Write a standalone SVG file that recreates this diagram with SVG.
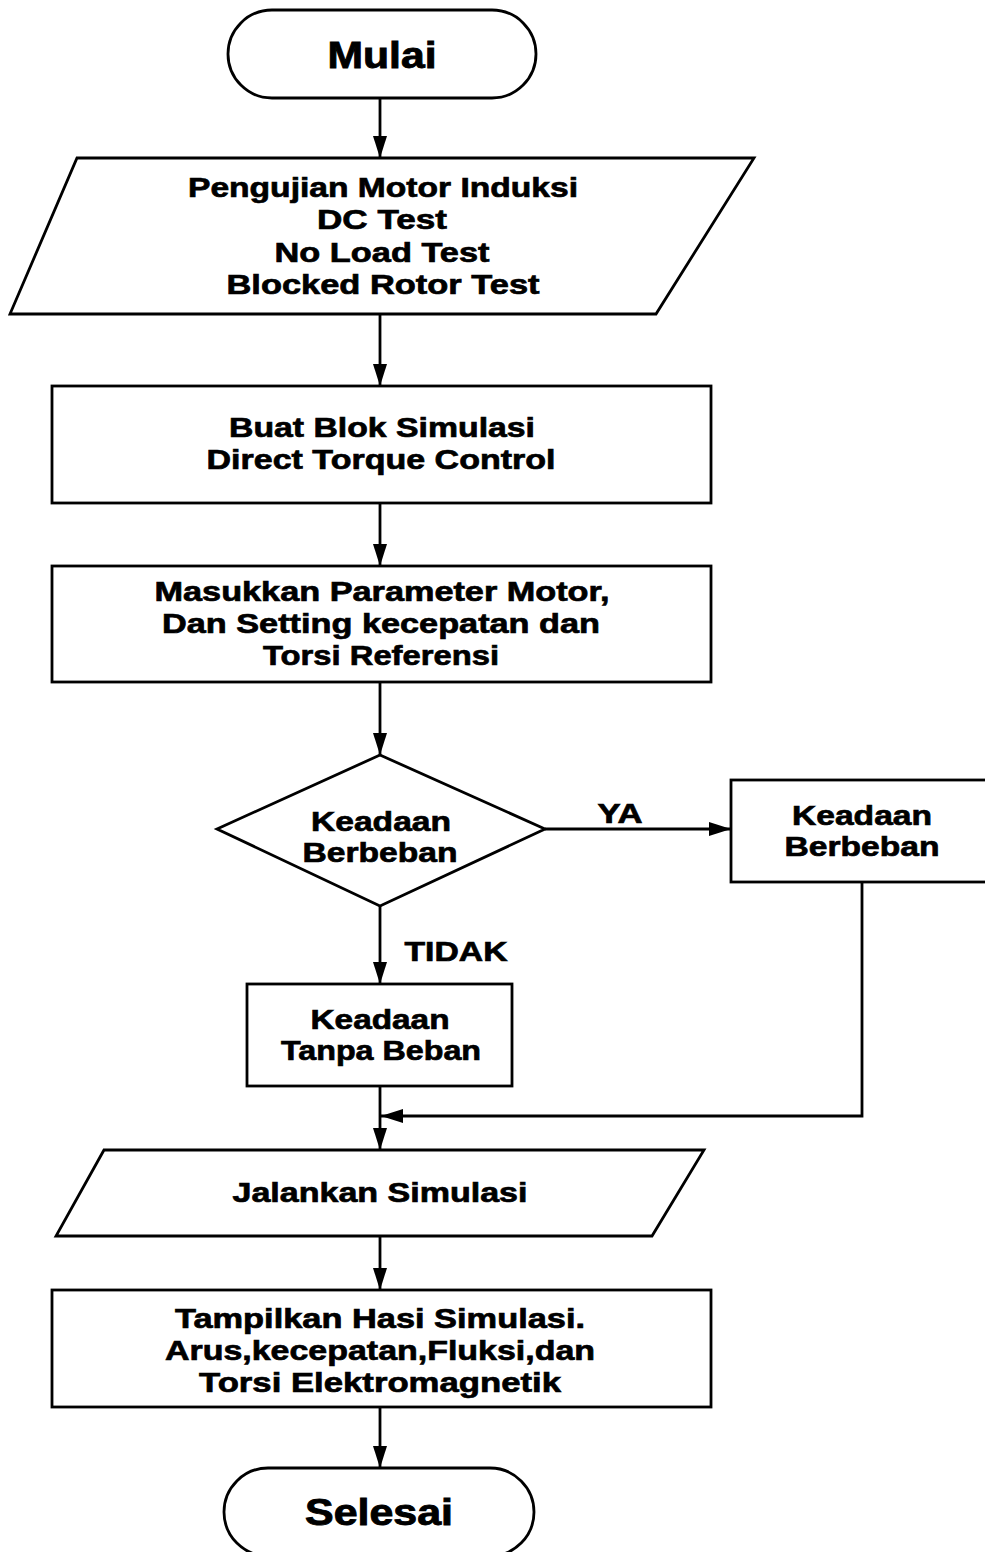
<svg xmlns="http://www.w3.org/2000/svg" width="985" height="1552" viewBox="0 0 985 1552">
<style>
.s{fill:#fff;stroke:#000;stroke-width:2.8}
.c{fill:none;stroke:#000;stroke-width:2.8}
.t{font-family:"Liberation Sans",Arial,sans-serif;font-weight:bold;font-size:28px;fill:#000;stroke:#000;stroke-width:0.7;text-anchor:middle}
.b{font-size:36px;stroke-width:0.9}
</style>
<defs>
<marker id="ah" markerUnits="userSpaceOnUse" markerWidth="22" markerHeight="16" refX="22" refY="8" orient="auto">
<path d="M0,1 L22,8 L0,15 Z" fill="#000"/>
</marker>
</defs>
<rect width="985" height="1552" fill="#fff"/>
<g id="connectors">
<line class="c" x1="380" y1="98" x2="380" y2="158" marker-end="url(#ah)"/>
<line class="c" x1="380" y1="314" x2="380" y2="386" marker-end="url(#ah)"/>
<line class="c" x1="380" y1="503" x2="380" y2="566" marker-end="url(#ah)"/>
<line class="c" x1="380" y1="682" x2="380" y2="755" marker-end="url(#ah)"/>
<line class="c" x1="545" y1="829" x2="731" y2="829" marker-end="url(#ah)"/>
<line class="c" x1="380" y1="906" x2="380" y2="984" marker-end="url(#ah)"/>
<polyline class="c" points="862,882 862,1116 381,1116" marker-end="url(#ah)"/>
<line class="c" x1="380" y1="1086" x2="380" y2="1150" marker-end="url(#ah)"/>
<line class="c" x1="380" y1="1236" x2="380" y2="1290" marker-end="url(#ah)"/>
<line class="c" x1="380" y1="1407" x2="380" y2="1468" marker-end="url(#ah)"/>
<text class="t" x="620" y="823" textLength="45" lengthAdjust="spacingAndGlyphs">YA</text>
<text class="t" x="456" y="961" textLength="103" lengthAdjust="spacingAndGlyphs">TIDAK</text>
</g>
<g id="mulai">
<rect class="s" x="228" y="10" width="308" height="88" rx="44" ry="44"/>
<text class="t b" x="382" y="68" textLength="109" lengthAdjust="spacingAndGlyphs">Mulai</text>
</g>
<g id="pengujian">
<polygon class="s" points="77,158 754,158 656,314 10,314"/>
<text class="t" x="383" y="197" textLength="390" lengthAdjust="spacingAndGlyphs">Pengujian Motor Induksi</text>
<text class="t" x="382" y="229" textLength="130" lengthAdjust="spacingAndGlyphs">DC Test</text>
<text class="t" x="382" y="262" textLength="215" lengthAdjust="spacingAndGlyphs">No Load Test</text>
<text class="t" x="383" y="294" textLength="313" lengthAdjust="spacingAndGlyphs">Blocked Rotor Test</text>
</g>
<g id="buat-blok">
<rect class="s" x="52" y="386" width="659" height="117"/>
<text class="t" x="382" y="437" textLength="306" lengthAdjust="spacingAndGlyphs">Buat Blok Simulasi</text>
<text class="t" x="381" y="469" textLength="349" lengthAdjust="spacingAndGlyphs">Direct Torque Control</text>
</g>
<g id="masukkan">
<rect class="s" x="52" y="566" width="659" height="116"/>
<text class="t" x="382" y="601" textLength="455" lengthAdjust="spacingAndGlyphs">Masukkan Parameter Motor,</text>
<text class="t" x="381" y="633" textLength="438" lengthAdjust="spacingAndGlyphs">Dan Setting kecepatan dan</text>
<text class="t" x="381" y="665" textLength="236" lengthAdjust="spacingAndGlyphs">Torsi Referensi</text>
</g>
<g id="keputusan">
<polygon class="s" points="380,755 545,829 380,906 217,829"/>
<text class="t" x="381" y="831" textLength="140" lengthAdjust="spacingAndGlyphs">Keadaan</text>
<text class="t" x="380" y="862" textLength="155" lengthAdjust="spacingAndGlyphs">Berbeban</text>
</g>
<g id="berbeban">
<rect class="s" x="731" y="780" width="256" height="102"/>
<text class="t" x="862" y="825" textLength="140" lengthAdjust="spacingAndGlyphs">Keadaan</text>
<text class="t" x="862" y="856" textLength="155" lengthAdjust="spacingAndGlyphs">Berbeban</text>
</g>
<g id="tanpa-beban">
<rect class="s" x="247" y="984" width="265" height="102"/>
<text class="t" x="380" y="1029" textLength="139" lengthAdjust="spacingAndGlyphs">Keadaan</text>
<text class="t" x="381" y="1060" textLength="200" lengthAdjust="spacingAndGlyphs">Tanpa Beban</text>
</g>
<g id="jalankan">
<polygon class="s" points="104,1150 704,1150 652,1236 56,1236"/>
<text class="t" x="380" y="1202" textLength="295" lengthAdjust="spacingAndGlyphs">Jalankan Simulasi</text>
</g>
<g id="tampilkan">
<rect class="s" x="52" y="1290" width="659" height="117"/>
<text class="t" x="380" y="1328" textLength="410" lengthAdjust="spacingAndGlyphs">Tampilkan Hasi Simulasi.</text>
<text class="t" x="380" y="1360" textLength="430" lengthAdjust="spacingAndGlyphs">Arus,kecepatan,Fluksi,dan</text>
<text class="t" x="380" y="1392" textLength="362" lengthAdjust="spacingAndGlyphs">Torsi Elektromagnetik</text>
</g>
<g id="selesai">
<rect class="s" x="224" y="1468" width="310" height="88" rx="44" ry="44"/>
<text class="t b" x="379" y="1525" textLength="148" lengthAdjust="spacingAndGlyphs">Selesai</text>
</g>
</svg>
